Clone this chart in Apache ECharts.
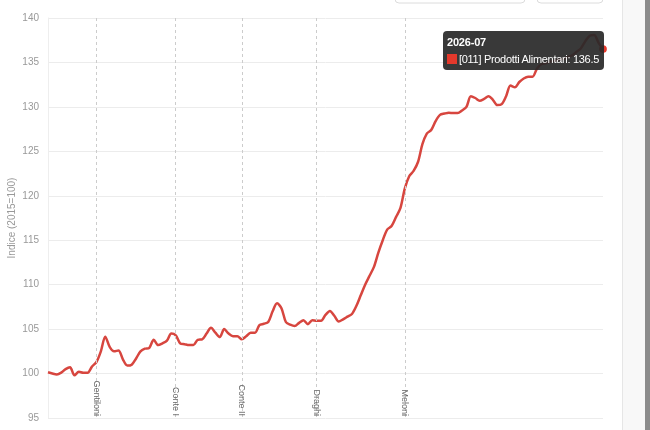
<!DOCTYPE html>
<html>
<head>
<meta charset="utf-8">
<script src="https://cdn.jsdelivr.net/npm/echarts@6/dist/echarts.min.js"></script>
<style>
html,body{margin:0;padding:0;background:#fff;}
#chart{width:650px;height:430px;}
</style>
</head>
<body>
<div id="chart"></div>
<script>
// Monthly index, 2016-01 .. 2026-07 (2015=100)
var startYear = 2016, startMonth = 1, monthCount = 127;
var categories = [];
for (var k = 0; k < monthCount; k++) {
  var m = (startMonth - 1 + k);
  var yy = startYear + Math.floor(m / 12);
  var mm = (m % 12) + 1;
  categories.push(yy + '-' + (mm < 10 ? '0' + mm : mm));
}
var seriesName = '[011] Prodotti Alimentari';
var values = [
  100.15, 100.0, 99.9, 100.1, 100.5, 100.7, 99.8, 100.2, 100.1, 100.1,
  100.8, 101.3, 102.5, 104.15, 103.0, 102.5, 102.6, 101.6, 100.9, 101.0,
  101.7, 102.5, 102.8, 102.9, 103.8, 103.2, 103.4, 103.7, 104.5, 104.3,
  103.4, 103.3, 103.2, 103.2, 103.8, 103.85, 104.5, 105.15, 104.6, 104.1,
  105.0, 104.5, 104.2, 104.2, 103.85, 104.2, 104.6, 104.6, 105.45, 105.6,
  105.8, 107.0, 107.9, 107.35, 105.8, 105.5, 105.35, 105.7, 106.0, 105.55,
  106.0, 105.95, 105.95, 106.6, 107.04, 106.5, 105.85, 106.1, 106.4, 106.7,
  107.6, 108.8, 110.0, 111.0, 112.0, 113.6, 115.0, 116.2, 116.6, 117.6,
  118.6, 120.8, 122.2, 122.8, 123.8, 125.8, 127.0, 127.4, 128.4, 129.1,
  129.25, 129.35, 129.3, 129.3, 129.6, 130.0, 131.2, 131.0, 130.7, 130.9,
  131.2, 130.8, 130.2, 130.3, 131.2, 132.4, 132.2, 132.8, 133.2, 133.4,
  133.4, 134.3, 134.8, 134.9, 135.1, 135.2, 135.3, 135.4, 135.6, 135.8,
  136.2, 136.6, 137.4, 138.0, 138.1, 137.2, 136.5
];
var governmentNames = ['Gentiloni', 'Conte I', 'Conte II', 'Draghi', 'Meloni'];
var governmentStarts = ['2016-12', '2018-06', '2019-09', '2021-02', '2022-10'];
var yMin = 95, yMax = 140, yInterval = 5;
var yAxisName = 'Indice (2015=100)';

var lineColor = '#c4403a';
var markerColor = '#e5392c';

var markLineData = governmentNames.map(function (n, i) {
  return [
    { name: n, coord: [governmentStarts[i], yMax] },
    { coord: [governmentStarts[i], yMin] }
  ];
});

var chart = echarts.init(document.getElementById('chart'), null, { renderer: 'canvas' });
chart.setOption({
  animation: false,
  textStyle: { fontFamily: 'Liberation Sans, Arial, sans-serif' },
  grid: { left: 48, right: 47, top: 18, bottom: 12, containLabel: false, outerBoundsMode: 'none' },
  tooltip: {
    trigger: 'axis',
    alwaysShowContent: true,
    axisPointer: { type: 'line', lineStyle: { color: 'rgba(0,0,0,0)' } },
    backgroundColor: 'rgba(40,40,40,0.92)',
    borderWidth: 0,
    borderRadius: 4,
    padding: [4, 5, 4, 4],
    extraCssText: 'box-shadow:none;',
    textStyle: { color: '#fff', fontSize: 11, fontFamily: 'Liberation Sans, Arial, sans-serif' },
    position: function (point, params, dom, rect, size) {
      return [point[0] - size.contentSize[0] + 1, point[1] - 18];
    },
    formatter: function (params) {
      var p = params[0];
      return '<div style="font-weight:bold;line-height:15px;margin-bottom:2px;letter-spacing:-0.2px;">' + p.name + '</div>' +
        '<div style="line-height:14px;letter-spacing:-0.3px;"><span style="display:inline-block;width:10px;height:10px;background:' + markerColor +
        ';vertical-align:-1px;margin-right:2px;"></span>' + p.seriesName + ': ' + p.value + '</div>';
    }
  },
  xAxis: {
    type: 'category',
    data: categories,
    boundaryGap: false,
    axisLine: { show: false },
    axisTick: { show: false },
    axisLabel: { show: false },
    splitLine: { show: false }
  },
  yAxis: {
    type: 'value',
    min: yMin,
    max: yMax,
    interval: yInterval,
    name: yAxisName,
    nameLocation: 'middle',
    nameGap: 31,
    nameMoveOverlap: false,
    nameTextStyle: { color: '#999', fontSize: 10 },
    axisLine: { show: true, lineStyle: { color: '#eeeeee' } },
    axisTick: { show: false },
    axisLabel: { color: '#999', fontSize: 10, margin: 9 },
    splitLine: { lineStyle: { color: '#ececec', width: 1 } }
  },
  series: [{
    name: seriesName,
    type: 'line',
    data: values,
    smooth: 0.3,
    showSymbol: false,
    symbol: 'circle',
    symbolSize: 7,
    lineStyle: { color: lineColor, width: 2.5 },
    itemStyle: { color: markerColor },
    emphasis: { scale: true, itemStyle: { color: markerColor, borderWidth: 0 }, lineStyle: { width: 2.5 } },
    markLine: {
      silent: true,
      symbol: ['none', 'none'],
      lineStyle: { color: '#cccccc', type: [3, 3], width: 1 },
      label: {
        show: true,
        position: 'insideEnd',
        formatter: '{b}',
        color: '#666',
        fontSize: 9,
        distance: 2
      },
      data: markLineData
    }
  }],
  graphic: [
    { type: 'rect', shape: { x: 395, y: -10, width: 130, height: 13, r: 4 }, style: { fill: '#fff', stroke: '#dcdcdc', lineWidth: 1 }, silent: true },
    { type: 'rect', shape: { x: 537, y: -10, width: 66, height: 13, r: 4 }, style: { fill: '#fff', stroke: '#dcdcdc', lineWidth: 1 }, silent: true },
    { type: 'rect', shape: { x: 622, y: 0, width: 23, height: 430 }, style: { fill: '#f8f8f8', stroke: null }, silent: true },
    { type: 'line', shape: { x1: 622.5, y1: 0, x2: 622.5, y2: 430 }, style: { stroke: '#e6e6e6', lineWidth: 1 }, silent: true },
    { type: 'rect', shape: { x: 645, y: 0, width: 5, height: 430 }, style: { fill: '#8c8c8c' }, silent: true }
  ]
});
chart.dispatchAction({ type: 'showTip', seriesIndex: 0, dataIndex: values.length - 1 });
</script>
</body>
</html>
